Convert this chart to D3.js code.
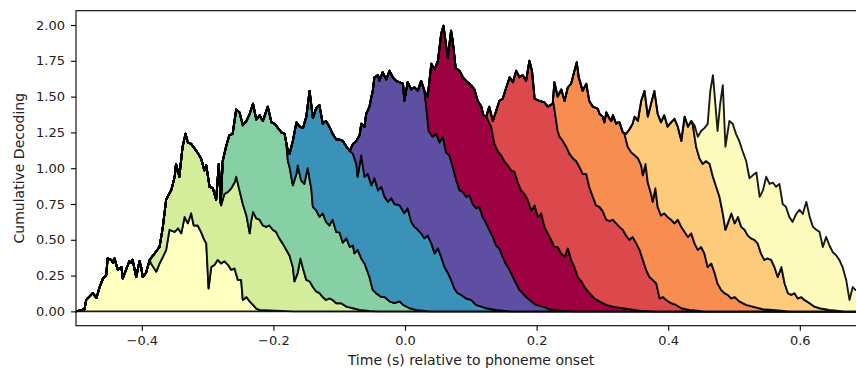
<!DOCTYPE html>
<html>
<head>
<meta charset="utf-8">
<script src="https://cdn.jsdelivr.net/npm/d3@7"></script>
<style>
  body { margin: 0; background: #fff; }
  svg text { font-family: "DejaVu Sans", sans-serif; fill: #222; }
</style>
</head>
<body>
<div id="chart"></div>
<script>

// tick labels
const xTicks = [-0.4, -0.2, 0.0, 0.2, 0.4, 0.6]
const yTicks = [0, 0.25, 0.5, 0.75, 1.0, 1.25, 1.5, 1.75, 2.0]

// one colour per stacked layer, bottom to top
const layerColors = ["#ffffbf", "#d4ed9b", "#87cfa4", "#3b92b8", "#5e4fa2",
                     "#9e0142", "#dc494c", "#f88d52", "#fdcb7b", "#fefcbd"]

// top of the whole stack, [time (s), cumulative decoding]
const envelope = [
  [-0.5, 0], [-0.487, 0.015], [-0.4845, 0.08], [-0.477, 0.115], [-0.4745, 0.127], [-0.469, 0.094],
  [-0.464, 0.17], [-0.459, 0.23], [-0.454, 0.254], [-0.452, 0.37], [-0.4465, 0.36], [-0.444, 0.34],
  [-0.4415, 0.37], [-0.4365, 0.29], [-0.431, 0.31], [-0.429, 0.23], [-0.424, 0.29], [-0.419, 0.35],
  [-0.416, 0.34], [-0.414, 0.36], [-0.4085, 0.24], [-0.4035, 0.35], [-0.401, 0.31], [-0.3985, 0.24],
  [-0.3935, 0.27], [-0.388, 0.36], [-0.383, 0.39], [-0.378, 0.42], [-0.373, 0.45], [-0.368, 0.59],
  [-0.363, 0.78], [-0.355, 0.85], [-0.35, 0.94], [-0.348, 1.03], [-0.343, 0.94], [-0.338, 1.15],
  [-0.3335, 1.24], [-0.33, 1.18], [-0.325, 1.17], [-0.317, 1.12], [-0.31, 1.07], [-0.305, 0.985],
  [-0.302, 1.02], [-0.297, 0.87], [-0.292, 0.86], [-0.287, 0.78], [-0.283, 1.03], [-0.28, 0.755],
  [-0.277, 1.05], [-0.272, 1.15], [-0.267, 1.23], [-0.262, 1.24], [-0.2565, 1.41], [-0.2515, 1.39],
  [-0.2465, 1.3], [-0.241, 1.33], [-0.236, 1.38], [-0.231, 1.45], [-0.226, 1.34], [-0.221, 1.37],
  [-0.216, 1.33], [-0.2085, 1.43], [-0.203, 1.32], [-0.198, 1.31], [-0.193, 1.28], [-0.188, 1.25],
  [-0.183, 1.24], [-0.1805, 1.18], [-0.178, 1.12], [-0.1755, 1.1], [-0.1705, 1.19], [-0.165, 1.32],
  [-0.16, 1.29], [-0.155, 1.28], [-0.15, 1.36], [-0.145, 1.54], [-0.14, 1.35], [-0.135, 1.42],
  [-0.13, 1.44], [-0.125, 1.31], [-0.12, 1.33], [-0.115, 1.29], [-0.11, 1.24], [-0.1045, 1.2],
  [-0.0995, 1.2], [-0.0945, 1.19], [-0.089, 1.15], [-0.084, 1.12], [-0.079, 1.17], [-0.074, 1.19],
  [-0.069, 1.23], [-0.0665, 1.31], [-0.0615, 1.29], [-0.059, 1.38], [-0.054, 1.43], [-0.051, 1.5],
  [-0.049, 1.54], [-0.0465, 1.635], [-0.041, 1.65], [-0.039, 1.61], [-0.034, 1.67], [-0.0285, 1.62],
  [-0.0235, 1.68], [-0.0185, 1.635], [-0.0135, 1.61], [-0.008, 1.6], [-0.003, 1.59], [-0.001, 1.47],
  [0.004, 1.6], [0.0095, 1.55], [0.0145, 1.565], [0.0195, 1.54], [0.0245, 1.61], [0.0295, 1.54],
  [0.0345, 1.5], [0.04, 1.73], [0.045, 1.69], [0.05, 1.75], [0.055, 1.94], [0.0585, 1.995],
  [0.0615, 1.89], [0.065, 1.77], [0.07, 1.96], [0.0725, 1.89], [0.077, 1.7], [0.083, 1.68],
  [0.088, 1.635], [0.093, 1.61], [0.1005, 1.58], [0.1055, 1.55], [0.1105, 1.47], [0.116, 1.43],
  [0.119, 1.37], [0.1235, 1.36], [0.128, 1.43], [0.1335, 1.33], [0.1385, 1.4], [0.1435, 1.47],
  [0.1485, 1.485], [0.154, 1.565], [0.159, 1.635], [0.164, 1.6], [0.169, 1.68], [0.174, 1.635],
  [0.179, 1.65], [0.184, 1.61], [0.189, 1.75], [0.193, 1.68], [0.197, 1.485], [0.204, 1.47],
  [0.212, 1.46], [0.217, 1.43], [0.2245, 1.45], [0.227, 1.6], [0.232, 1.5], [0.2375, 1.55],
  [0.2425, 1.47], [0.2475, 1.565], [0.2525, 1.59], [0.2575, 1.68], [0.261, 1.74], [0.264, 1.635],
  [0.27, 1.54], [0.2755, 1.59], [0.28, 1.47], [0.2855, 1.43], [0.293, 1.415], [0.2955, 1.38],
  [0.3005, 1.36], [0.303, 1.32], [0.306, 1.39], [0.311, 1.345], [0.3135, 1.33], [0.316, 1.37],
  [0.321, 1.31], [0.3235, 1.32], [0.326, 1.32], [0.331, 1.25], [0.336, 1.24], [0.341, 1.27],
  [0.346, 1.31], [0.349, 1.36], [0.354, 1.33], [0.359, 1.47], [0.364, 1.54], [0.369, 1.36],
  [0.374, 1.45], [0.379, 1.54], [0.384, 1.38], [0.389, 1.32], [0.394, 1.37], [0.399, 1.29],
  [0.4045, 1.32], [0.4095, 1.345], [0.4145, 1.29], [0.42, 1.19], [0.425, 1.36], [0.43, 1.29],
  [0.435, 1.33], [0.44, 1.3], [0.445, 1.22], [0.45, 1.26], [0.455, 1.28], [0.46, 1.31],
  [0.464, 1.54], [0.468, 1.65], [0.472, 1.43], [0.475, 1.26], [0.479, 1.45], [0.483, 1.58],
  [0.487, 1.15], [0.493, 1.33], [0.498, 1.31], [0.503, 1.24], [0.508, 1.19], [0.513, 1.12],
  [0.5185, 1.05], [0.5235, 0.93], [0.5285, 0.95], [0.534, 0.97], [0.539, 0.8], [0.544, 0.845],
  [0.549, 0.94], [0.554, 0.89], [0.559, 0.9], [0.564, 0.87], [0.569, 0.89], [0.574, 0.75],
  [0.579, 0.73], [0.584, 0.66], [0.589, 0.625], [0.5945, 0.68], [0.5995, 0.71], [0.6045, 0.68],
  [0.61, 0.765], [0.615, 0.66], [0.62, 0.59], [0.625, 0.57], [0.63, 0.555], [0.635, 0.45],
  [0.64, 0.52], [0.645, 0.46], [0.65, 0.415], [0.6555, 0.39], [0.66, 0.36], [0.665, 0.31],
  [0.6705, 0.22], [0.6755, 0.08], [0.6805, 0.17], [0.6845, 0.15], [0.7, 0.12]
]

// falling edge of each layer once the next layer sits on top of it
const edge0 = [
  [-0.386, 0.335], [-0.378, 0.277], [-0.373, 0.335], [-0.368, 0.38], [-0.363, 0.43], [-0.358, 0.57],
  [-0.35, 0.555], [-0.345, 0.58], [-0.34, 0.545], [-0.335, 0.66], [-0.33, 0.615], [-0.325, 0.685],
  [-0.321, 0.6], [-0.315, 0.6], [-0.31, 0.555], [-0.305, 0.5], [-0.302, 0.475], [-0.2985, 0.16],
  [-0.2945, 0.31], [-0.2895, 0.325], [-0.2845, 0.36], [-0.2795, 0.335], [-0.2745, 0.35], [-0.269, 0.325],
  [-0.264, 0.29], [-0.259, 0.3], [-0.254, 0.22], [-0.249, 0.22], [-0.2465, 0.08], [-0.241, 0.1],
  [-0.236, 0.07], [-0.231, 0.045], [-0.226, 0.02], [-0.221, 0.01], [-0.196, 0.005], [-0.17, 0]
]
const edge1 = [
  [-0.2795, 0.74], [-0.2745, 0.82], [-0.269, 0.835], [-0.264, 0.86], [-0.259, 0.9], [-0.2565, 0.94],
  [-0.2515, 0.845], [-0.2465, 0.75], [-0.241, 0.67], [-0.236, 0.545], [-0.234, 0.625], [-0.231, 0.695],
  [-0.226, 0.65], [-0.221, 0.64], [-0.216, 0.6], [-0.211, 0.59], [-0.206, 0.6], [-0.201, 0.57],
  [-0.196, 0.555], [-0.191, 0.51], [-0.186, 0.475], [-0.1805, 0.43], [-0.1755, 0.39], [-0.1705, 0.31],
  [-0.168, 0.21], [-0.163, 0.27], [-0.159, 0.37], [-0.155, 0.3], [-0.15, 0.22], [-0.145, 0.21],
  [-0.14, 0.17], [-0.135, 0.14], [-0.13, 0.127], [-0.125, 0.1], [-0.12, 0.08], [-0.115, 0.09],
  [-0.11, 0.08], [-0.1045, 0.057], [-0.097, 0.057], [-0.089, 0.033], [-0.079, 0.022], [-0.069, 0.01],
  [-0.054, 0.003], [-0.04, 0]
]
const edge2 = [
  [-0.178, 1.05], [-0.1755, 1.01], [-0.1705, 0.88], [-0.165, 0.96], [-0.163, 1.02], [-0.158, 0.915],
  [-0.153, 0.89], [-0.148, 1.0], [-0.1425, 0.86], [-0.14, 0.73], [-0.135, 0.705], [-0.13, 0.66],
  [-0.125, 0.685], [-0.12, 0.625], [-0.115, 0.6], [-0.11, 0.64], [-0.1045, 0.555], [-0.0995, 0.55],
  [-0.0945, 0.48], [-0.089, 0.51], [-0.084, 0.45], [-0.079, 0.46], [-0.077, 0.405], [-0.072, 0.43],
  [-0.0665, 0.37], [-0.0615, 0.335], [-0.054, 0.24], [-0.049, 0.15], [-0.044, 0.127], [-0.036, 0.1],
  [-0.031, 0.1], [-0.0235, 0.07], [-0.016, 0.057], [-0.008, 0.07], [-0.003, 0.045], [0.007, 0.022],
  [0.017, 0.01], [0.037, 0]
]
const edge3 = [
  [-0.079, 1.1], [-0.074, 1.03], [-0.072, 0.94], [-0.0665, 1.09], [-0.0615, 0.94], [-0.0565, 0.96],
  [-0.051, 0.88], [-0.0465, 0.93], [-0.041, 0.845], [-0.036, 0.87], [-0.031, 0.8], [-0.026, 0.765],
  [-0.021, 0.79], [-0.016, 0.75], [-0.008, 0.74], [-0.001, 0.685], [0.004, 0.72], [0.0095, 0.625],
  [0.0145, 0.59], [0.0195, 0.57], [0.0245, 0.545], [0.0295, 0.51], [0.0345, 0.53], [0.04, 0.475],
  [0.045, 0.405], [0.05, 0.44], [0.055, 0.38], [0.06, 0.31], [0.065, 0.27], [0.07, 0.22],
  [0.075, 0.16], [0.08, 0.127], [0.0855, 0.115], [0.093, 0.09], [0.1005, 0.08], [0.108, 0.045],
  [0.116, 0.033], [0.1235, 0.022], [0.1385, 0.01], [0.159, 0]
]
const edge4 = [
  [0.033, 1.4], [0.036, 1.26], [0.042, 1.22], [0.0475, 1.24], [0.0525, 1.18], [0.0575, 1.22],
  [0.0625, 1.11], [0.0675, 1.09], [0.0725, 1.01], [0.078, 0.915], [0.083, 0.845], [0.088, 0.835],
  [0.093, 0.8], [0.098, 0.81], [0.103, 0.75], [0.108, 0.72], [0.113, 0.73], [0.118, 0.66],
  [0.1235, 0.615], [0.128, 0.57], [0.1335, 0.52], [0.1385, 0.46], [0.1435, 0.44], [0.1485, 0.38],
  [0.154, 0.325], [0.159, 0.29], [0.164, 0.24], [0.169, 0.195], [0.174, 0.15], [0.179, 0.127],
  [0.184, 0.1], [0.192, 0.07], [0.1995, 0.045], [0.2095, 0.033], [0.2195, 0.015], [0.235, 0.005],
  [0.258, 0]
]
const edge5 = [
  [0.1235, 1.36], [0.131, 1.29], [0.136, 1.17], [0.141, 1.12], [0.146, 1.09], [0.151, 1.05],
  [0.156, 1.02], [0.1615, 0.985], [0.1665, 0.975], [0.1715, 0.9], [0.1765, 0.845], [0.1815, 0.82],
  [0.1865, 0.78], [0.192, 0.705], [0.197, 0.74], [0.202, 0.66], [0.207, 0.685], [0.212, 0.59],
  [0.217, 0.545], [0.222, 0.5], [0.227, 0.45], [0.232, 0.45], [0.2375, 0.405], [0.2425, 0.38],
  [0.2475, 0.44], [0.2525, 0.36], [0.2575, 0.31], [0.2625, 0.24], [0.268, 0.21], [0.273, 0.17],
  [0.278, 0.14], [0.283, 0.115], [0.288, 0.09], [0.2955, 0.07], [0.306, 0.045], [0.316, 0.033],
  [0.331, 0.022], [0.3565, 0.005], [0.379, 0]
]
const edge6 = [
  [0.226, 1.45], [0.232, 1.26], [0.235, 1.22], [0.24, 1.19], [0.245, 1.15], [0.25, 1.1],
  [0.255, 1.07], [0.26, 1.05], [0.265, 1.01], [0.27, 0.96], [0.2755, 0.96], [0.28, 0.87],
  [0.2855, 0.8], [0.2905, 0.74], [0.2955, 0.73], [0.3005, 0.7], [0.306, 0.64], [0.311, 0.63],
  [0.316, 0.64], [0.321, 0.615], [0.326, 0.59], [0.331, 0.57], [0.336, 0.53], [0.341, 0.5],
  [0.346, 0.52], [0.3515, 0.475], [0.3565, 0.43], [0.3615, 0.36], [0.3665, 0.29], [0.3715, 0.24],
  [0.3765, 0.22], [0.382, 0.195], [0.387, 0.09], [0.392, 0.1], [0.397, 0.08], [0.4045, 0.057],
  [0.412, 0.045], [0.42, 0.022], [0.4325, 0.01], [0.455, 0]
]
const edge7 = [
  [0.3335, 1.24], [0.3385, 1.15], [0.344, 1.11], [0.349, 1.09], [0.354, 1.07], [0.359, 1.02],
  [0.3615, 0.95], [0.3655, 1.03], [0.369, 0.9], [0.374, 0.82], [0.3765, 0.765], [0.3805, 0.86],
  [0.384, 0.73], [0.389, 0.67], [0.394, 0.685], [0.399, 0.66], [0.4045, 0.64], [0.4095, 0.615],
  [0.4145, 0.64], [0.42, 0.59], [0.425, 0.555], [0.43, 0.52], [0.435, 0.545], [0.44, 0.475],
  [0.445, 0.43], [0.45, 0.45], [0.455, 0.405], [0.46, 0.31], [0.4655, 0.335], [0.4705, 0.27],
  [0.475, 0.195], [0.4805, 0.15], [0.4855, 0.127], [0.4905, 0.115], [0.496, 0.09], [0.501, 0.1],
  [0.508, 0.07], [0.5185, 0.045], [0.5285, 0.033], [0.544, 0.015], [0.559, 0.01], [0.584, 0]
]
const edge8 = [
  [0.4375, 1.3], [0.4425, 1.15], [0.4475, 1.07], [0.4525, 1.03], [0.4575, 1.05], [0.463, 1.03],
  [0.468, 0.94], [0.473, 0.87], [0.478, 0.8], [0.483, 0.685], [0.487, 0.57], [0.4905, 0.615],
  [0.496, 0.685], [0.501, 0.615], [0.506, 0.66], [0.511, 0.59], [0.516, 0.57], [0.521, 0.53],
  [0.526, 0.51], [0.531, 0.5], [0.536, 0.475], [0.541, 0.405], [0.546, 0.36], [0.551, 0.37],
  [0.5565, 0.36], [0.5615, 0.31], [0.5665, 0.24], [0.572, 0.31], [0.577, 0.195], [0.582, 0.127],
  [0.587, 0.115], [0.592, 0.127], [0.597, 0.09], [0.602, 0.1], [0.607, 0.08], [0.615, 0.057],
  [0.6225, 0.033], [0.63, 0.022], [0.645, 0.01], [0.668, 0]
]
const edges = [edge0, edge1, edge2, edge3, edge4, edge5, edge6, edge7, edge8]

// Layout
const width = 856, height = 372
const plot = {left: 76, top: 10.7, width: 1.2 * 658, height: 315}

const svg = d3.select("#chart").append("svg")
    .attr("width", width)
    .attr("height", height)

const x = d3.scaleLinear()
    .domain([-0.5, 0.7])
    .range([plot.left, plot.left + plot.width])

const y = d3.scaleLinear()
    .domain([-0.1, 2.1])
    .range([plot.top + plot.height, plot.top])

svg.append("clipPath").attr("id", "clip")
  .append("rect")
    .attr("x", plot.left).attr("y", plot.top)
    .attr("width", plot.width).attr("height", plot.height)

// upper boundary of layer k (k = -1 is the zero line)
function boundary(k) {
    if (k < 0) return [[-0.5, 0], [0.7, 0]]
    if (k >= edges.length) return envelope
    const e = edges[k]
    return envelope.filter(p => p[0] < e[0][0]).concat(e, [[0.7, 0]])
}

const line = d3.line().x(d => x(d[0])).y(d => y(d[1]))

const layers = svg.append("g").attr("clip-path", "url(#clip)")

layerColors.forEach((color, k) => {
    const top = boundary(k)
    const bottom = boundary(k - 1).slice().reverse()
    layers.append("path")
        .attr("d", line(top.concat(bottom)) + "Z")
        .attr("fill", color)
        .attr("stroke", "#000")
        .attr("stroke-opacity", 0.9)
        .attr("stroke-width", 1.9)
        .attr("stroke-linejoin", "round")
})

// axes
const xAx = d3.axisBottom(x)
    .tickValues(xTicks)
    .tickFormat(d => d3.format(".1f")(d).replace("-", "\u2212"))
    .tickSize(5).tickPadding(5).tickSizeOuter(0)

const yAx = d3.axisLeft(y)
    .tickValues(yTicks)
    .tickFormat(d3.format(".2f"))
    .tickSize(5).tickPadding(6).tickSizeOuter(0)

const xGroup = svg.append("g")
    .attr("transform", `translate(0, ${plot.top + plot.height})`)
    .call(xAx)

const yGroup = svg.append("g")
    .attr("transform", `translate(${plot.left}, 0)`)
    .call(yAx)

for (const g of [xGroup, yGroup]) {
    g.select(".domain").remove()
    g.selectAll(".tick line").attr("stroke", "#000").attr("stroke-width", 1.1)
    g.selectAll(".tick text")
        .attr("font-size", 13)
        .attr("font-family", "DejaVu Sans")
        .attr("fill", "#222")
}

// spines
svg.append("rect")
    .attr("x", plot.left).attr("y", plot.top)
    .attr("width", plot.width).attr("height", plot.height)
    .attr("fill", "none")
    .attr("stroke", "#000")
    .attr("stroke-width", 1.1)

// axis titles
svg.append("text")
    .attr("x", 471)
    .attr("y", 365)
    .attr("text-anchor", "middle")
    .attr("font-size", 14)
    .text("Time (s) relative to phoneme onset")

svg.append("text")
    .attr("transform", `translate(24, ${plot.top + plot.height / 2}) rotate(-90)`)
    .attr("text-anchor", "middle")
    .attr("font-size", 14)
    .text("Cumulative Decoding")

</script>
</body>
</html>
